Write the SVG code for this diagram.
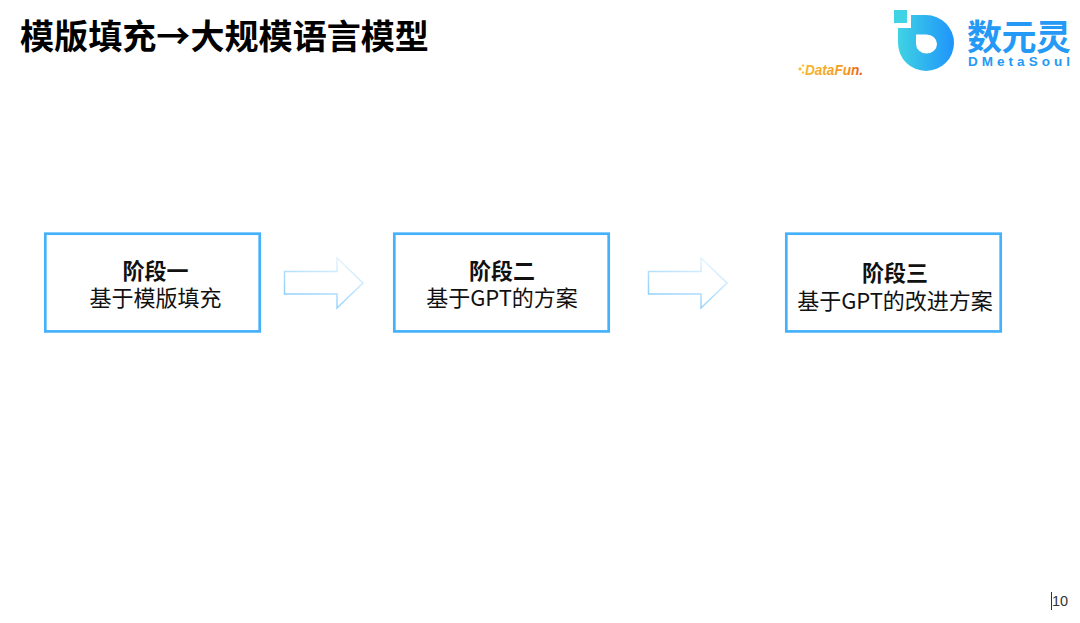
<svg xmlns="http://www.w3.org/2000/svg" width="1080" height="623" viewBox="0 0 1080 623">
<style>
text{font-family:"Noto Sans CJK SC","Liberation Sans",sans-serif;fill:#111}
.box{fill:#fff;stroke:#46b1fb;stroke-width:2.700}
.t{font-size:22px;text-anchor:middle}
.b{font-weight:700}
.arrow{fill:#fff;stroke:url(#ag);stroke-width:1.500}
</style>
<defs>
<linearGradient id="ag" x1="0" y1="1" x2="0.6" y2="0"><stop offset="0" stop-color="#7cc8fb"/><stop offset="1" stop-color="#e2f3fe"/></linearGradient>
<linearGradient id="lg" x1="0" y1="0" x2="1" y2="0"><stop offset="0" stop-color="#3fd3e3"/><stop offset="1" stop-color="#1f94fb"/></linearGradient>
<linearGradient id="df" x1="0" y1="0" x2="1" y2="0"><stop offset="0" stop-color="#f7b52c"/><stop offset="0.700" stop-color="#f59a1e"/><stop offset="1" stop-color="#e8501a"/></linearGradient>
</defs>
<rect width="1080" height="623" fill="#fff"/>
<text x="20" y="49" font-size="34.100" font-weight="700" style="fill:#000">模版填充→大规模语言模型</text>
<g id="logo-datafun">
<text x="805" y="75" font-size="14" font-weight="700" font-style="italic" style="fill:url(#df);font-family:'Liberation Sans',sans-serif" textLength="58" lengthAdjust="spacingAndGlyphs">DataFun.</text>
<path d="M798 69l2-2 2 2-2 2zM801.500 65.500l1.500-1.500 1.500 1.500-1.500 1.500zM801.500 72.500l1.500-1.500 1.500 1.500-1.500 1.500z" fill="#f7c23c"/>
</g>
<g id="logo-dmetasoul">
<rect x="894" y="10" width="13" height="13" fill="#3fd3e3"/>
<path fill-rule="evenodd" fill="url(#lg)" d="M911 15H926A28 28 0 1 1 898 43V28H911ZM916 35V44A10.500 9.500 0 1 0 926.500 34.500H916Z"/>
<text x="967" y="50" font-size="35" font-weight="700" style="fill:#2499f5" textLength="104" lengthAdjust="spacing">数元灵</text>
<text x="968" y="66" font-size="13.500" font-weight="700" style="fill:#2499f5;font-family:'Liberation Sans',sans-serif" textLength="102" lengthAdjust="spacing">DMetaSoul</text>
</g>
<g id="connectors">
<path id="arrow-1" class="arrow" d="M284.500 271.500H337V258L363 283L337 308V294H284.500Z"/>
<path id="arrow-2" class="arrow" d="M648.500 271.500H701V258L727 283L701 308V294H648.500Z"/>
</g>
<g id="node-1">
<rect class="box" x="45.300" y="233.700" width="214.400" height="97.700"/>
<text class="t b" x="155.500" y="279">阶段一</text>
<text class="t" x="155.500" y="306">基于模版填充</text>
</g>
<g id="node-2">
<rect class="box" x="394.300" y="233.700" width="214.400" height="97.700"/>
<text class="t b" x="502" y="279">阶段二</text>
<text class="t" x="502" y="306">基于GPT的方案</text>
</g>
<g id="node-3">
<rect class="box" x="786.300" y="233.700" width="214.400" height="97.700"/>
<text class="t b" x="895" y="281">阶段三</text>
<text class="t" x="895" y="309">基于GPT的改进方案</text>
</g>
<g id="page">
<path d="M1051.500 592V610" stroke="#333" stroke-width="1"/>
<text x="1052" y="606" font-size="14.500" style="font-family:'Liberation Sans',sans-serif;fill:#333">10</text>
</g>
</svg>
